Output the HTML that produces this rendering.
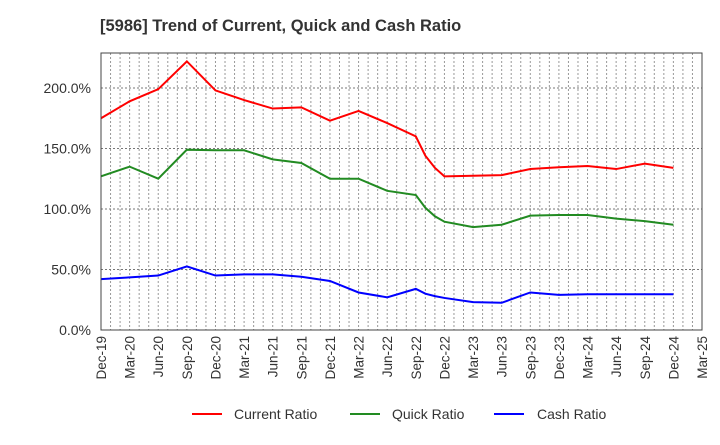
<!DOCTYPE html>
<html><head><meta charset="utf-8"><style>body{margin:0;background:#fff}svg{font-family:"Liberation Sans",sans-serif}</style></head>
<body>
<svg id="c" width="720" height="440">
<text x="100" y="31" font-size="16.5" font-weight="bold" fill="#333">[5986]  Trend of Current, Quick and Cash Ratio</text>
<g id="grid"></g><g id="series"></g><g id="axes"></g>
<g>
<line x1="192" y1="414" x2="222" y2="414" stroke="#f00" stroke-width="2"/><text x="234" y="419" font-size="14" fill="#333">Current Ratio</text>
<line x1="350" y1="414" x2="380" y2="414" stroke="#228b22" stroke-width="2"/><text x="392" y="419" font-size="14" fill="#333">Quick Ratio</text>
<line x1="494" y1="414" x2="524" y2="414" stroke="#00f" stroke-width="2"/><text x="537" y="419" font-size="14" fill="#333">Cash Ratio</text>
</g>
</svg>
<script>
const months=[0,3,6,9,12,15,18,21,24,27,30,33,34,35,36,39,42,45,48,51,54,57,60];
const currentRatio=[175,189,199,222,198,190,183,184,173,181,171,160,144,134,127,127.5,128,133,134.5,135.5,133,137.5,134];
const quickRatio=[127,135,125,149,148.5,148.5,141,138,125,125,115,111.5,101,94,89.5,85,87,94.5,95,95,92,90,87];
const cashRatio=[42,43.5,45,52.5,45,46,46,44,40.5,31,27,34,30,28,26.5,23,22.5,31,29,29.5,29.5,29.5,29.5];
const xLabels=["Dec-19","Mar-20","Jun-20","Sep-20","Dec-20","Mar-21","Jun-21","Sep-21","Dec-21","Mar-22","Jun-22","Sep-22","Dec-22","Mar-23","Jun-23","Sep-23","Dec-23","Mar-24","Jun-24","Sep-24","Dec-24","Mar-25"];
const yTicks=[0,50,100,150,200];
const L=101,R=702,T=53,B=330,YMAX=228.9,NM=63;
const X=m=>L+(R-L)*m/NM, Y=v=>B-(B-T)*v/YMAX;
const NS="http://www.w3.org/2000/svg";
function mk(t,a,p){const e=document.createElementNS(NS,t);for(const k in a)e.setAttribute(k,a[k]);p.appendChild(e);return e;}
const g=document.getElementById('grid'),s=document.getElementById('series'),ax=document.getElementById('axes');
for(let m=1;m<NM;m++){const l=mk('line',{x1:X(m),x2:X(m),y1:T,y2:B,stroke:'#999','stroke-dasharray':'2,2','stroke-width':1},g);

}
yTicks.forEach(v=>{if(v>0){const l=mk('line',{x1:L,x2:R,y1:Y(v),y2:Y(v),stroke:'#777','stroke-dasharray':'2,2','stroke-width':1},g);

}
const t=mk('text',{x:L-10,y:Y(v)+5,'text-anchor':'end','font-size':14,fill:'#333'},ax);t.textContent=v.toFixed(1)+'%';

});
xLabels.forEach((lb,i)=>{const x=X(i*3);const t=mk('text',{x:0,y:0,transform:`translate(${x+5},${B+6}) rotate(-90)`,'text-anchor':'end','font-size':13.5,fill:'#333'},ax);t.textContent=lb;

});
const fr=mk('rect',{x:L,y:T,width:R-L,height:B-T,fill:'none',stroke:'#444','stroke-width':1},ax);


[[currentRatio,'#f00','current-ratio-line'],[quickRatio,'#228b22','quick-ratio-line'],[cashRatio,'#00f','cash-ratio-line']].forEach(([d,c,n])=>{
const p=mk('polyline',{points:d.map((v,i)=>X(months[i])+','+Y(v)).join(' '),fill:'none',stroke:c,'stroke-width':2},s);

});
</script>
</body></html>
